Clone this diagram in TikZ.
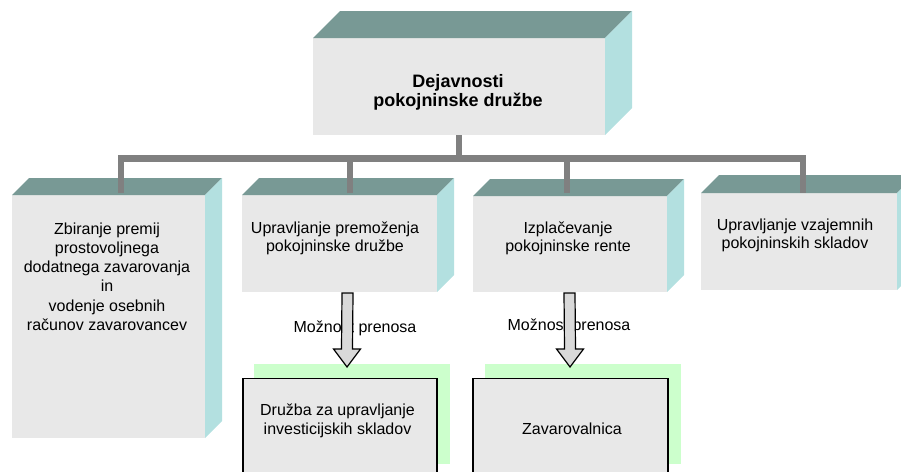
\documentclass[tikz,border=0pt]{standalone}
\usepackage{fontspec}
\setmainfont{Liberation Sans}
\usetikzlibrary{calc}
\definecolor{topc}{HTML}{789995}
\definecolor{sidec}{HTML}{B3E0E0}
\definecolor{facec}{HTML}{E8E8E8}
\definecolor{busc}{HTML}{808080}
\definecolor{greenc}{HTML}{CCFFCC}
\definecolor{arrowc}{HTML}{D9D9D9}
\begin{document}
\begin{tikzpicture}[x=1pt,y=-1pt,
  face/.style={fill=facec, inner sep=0pt, outer sep=0pt, anchor=north west},
  greenbox/.style={fill=greenc, inner sep=0pt, outer sep=0pt, anchor=north west},
  lowbox/.style={fill=facec, draw=black, line width=1.5pt, inner sep=0pt, outer sep=0pt, anchor=north west},
  txt/.style={font=\fontsize{16}{18}\selectfont, align=center, inner sep=0pt, anchor=north, text=black},
  bus/.style={draw=busc, line width=6.5pt, line join=miter},
  barrow/.style={fill=arrowc, draw=black, line width=1.2pt, line join=miter},
  topface/.style={fill=topc},
  sideface/.style={fill=sidec}]
\useasboundingbox (0,0) rectangle (901,471);
\clip (0,0) rectangle (901,471);

% lower boxes
\node[greenbox, minimum width=196pt, minimum height=100pt] (g1) at (254,364) {};
\node[greenbox, minimum width=196pt, minimum height=100pt] (g2) at (485,364) {};
\node[lowbox, minimum width=194pt, minimum height=120pt] (b1) at (243,378.5) {};
\node[lowbox, minimum width=195pt, minimum height=120pt] (b2) at (473,378.5) {};

% 3D boxes: front faces
\node[face, minimum width=292pt, minimum height=97pt] (f0) at (313,38) {};
\node[face, minimum width=193pt, minimum height=243pt] (f1) at (12,195) {};
\node[face, minimum width=195pt, minimum height=97pt] (f2) at (242,195) {};
\node[face, minimum width=194pt, minimum height=96pt] (f3) at (473,196) {};
\node[face, minimum width=196pt, minimum height=97pt] (f4) at (701,193) {};

% top and side faces
\foreach \n/\d in {f0/27, f1/17, f2/17, f3/17, f4/18}{
  \fill[topface] (\n.north west) -- ++(\d,-\d) -- ($(\n.north east)+(\d,-\d)$) -- (\n.north east) -- cycle;
  \fill[sideface] (\n.north east) -- ++(\d,-\d) -- ($(\n.south east)+(\d,-\d)$) -- (\n.south east) -- cycle;
}

% connectors (bus)
\coordinate (bus) at (459,158.5);
\coordinate (k1) at ($(f1.north)+(12.5,-2)$);
\coordinate (k2) at ($(f2.north)+(10.5,-2)$);
\coordinate (k3) at ($(f3.north)+(-3,-3)$);
\coordinate (k4) at ($(f4.north)+(4,0)$);
\draw[bus] (f0.south) -- (bus);
\draw[bus] (k1) |- (bus) -| (k4);
\draw[bus] (k2) -- (k2 |- bus);
\draw[bus] (k3) -- (k3 |- bus);

% texts
\node[txt, font=\bfseries\fontsize{18}{18.5}\selectfont] (t0) at (458,74.5) {Dejavnosti\\pokojninske družbe};
\node[txt, font=\fontsize{16}{19.2}\selectfont] (t1) at (107,222.5) {Zbiranje premij\\prostovoljnega\\dodatnega zavarovanja\\in\\vodenje osebnih\\računov zavarovancev};
\node[txt] (t2) at (335,222) {Upravljanje premoženja\\pokojninske družbe};
\node[txt] (t3) at (568,222) {Izplačevanje\\pokojninske rente};
\node[txt] (t4) at (795,219) {Upravljanje vzajemnih\\pokojninskih skladov};
\node[txt, font=\fontsize{16}{19.5}\selectfont] (l1) at (337.5,403.5) {Družba za upravljanje\\investicijskih skladov};
\node[txt] (l2) at (572,423) {Zavarovalnica};

% transfer labels
\node[txt] (m1) at (355,320.5) {Možnost prenosa};
\node[txt] (m2) at (569,319) {Možnost prenosa};

% block arrows
\coordinate (a1s) at ($(f2.south)+(8,1)$);
\coordinate (a1e) at ($(b1.north)+(7,-11.5)$);
\coordinate (a2s) at ($(f3.south)+(-0.5,1)$);
\coordinate (a2e) at ($(b2.north)+(-0.5,-11.5)$);
\foreach \s/\e in {a1s/a1e, a2s/a2e}{
  \draw[barrow] ($(\s)+(-5.5,0)$) -- ($(\s)+(5.5,0)$) -- ($(\e)+(5.5,-18)$) -- ($(\e)+(13.5,-18)$) -- (\e) -- ($(\e)+(-13.5,-18)$) -- ($(\e)+(-5.5,-18)$) -- cycle;
}
\end{tikzpicture}
\end{document}
